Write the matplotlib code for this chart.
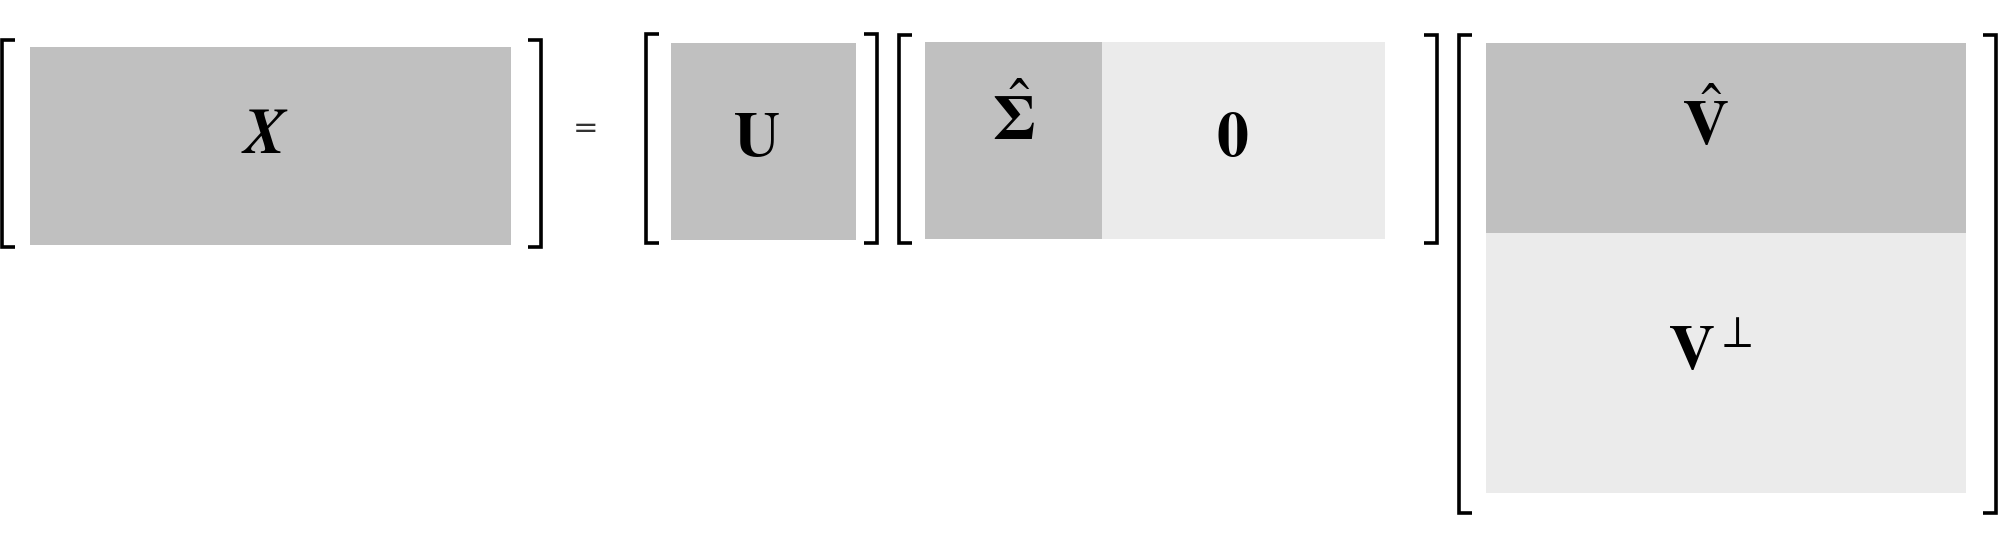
import matplotlib
matplotlib.use("Agg")
import matplotlib.pyplot as plt
from matplotlib.patches import Rectangle

plt.rcParams['mathtext.fontset'] = 'stix'

# block rectangles: (x0, y0, x1, y1, colour)
dark = '#c0c0c0'
light = '#ebebeb'
block_x = [30, 671, 925, 1102, 1486, 1486]
block_y = [47, 43, 42, 42, 43, 233]
block_w = [481, 185, 177, 283, 480, 480]
block_h = [198, 197, 197, 197, 190, 260]
block_c = [dark, dark, dark, light, dark, light]

# labels
label_text = [r'$\boldsymbol{X}$', r'$\mathbf{U}$', r'$\hat{\mathbf{\Sigma}}$', r'$\mathbf{0}$',
              r'$\hat{\mathbf{V}}$', r'$\mathbf{V}^{\perp}$']
label_x = [265, 756, 1013, 1232, 1705, 1710]
label_y = [135, 138, 120, 138, 125, 352]

# brackets: (x, top, bottom, side) side=+1 left bracket, -1 right bracket
br_x = [2, 541, 646, 877, 899, 1437, 1459, 1996]
br_top = [40, 40, 34, 34, 35, 35, 35, 35]
br_bot = [247, 247, 243, 243, 243, 243, 513, 513]
br_side = [1, -1, 1, -1, 1, -1, 1, -1]

fig = plt.figure(figsize=(20, 5.48), dpi=100)
ax = fig.add_axes([0, 0, 1, 1])
ax.set_xlim(0, 2000)
ax.set_ylim(548, 0)
ax.axis('off')

for x, y, w, h, c in zip(block_x, block_y, block_w, block_h, block_c):
    ax.add_patch(Rectangle((x, y), w, h, facecolor=c, edgecolor='none'))

for x, t, b, s in zip(br_x, br_top, br_bot, br_side):
    ax.plot([x + s * 13, x, x, x + s * 13], [t, t, b, b], color='black', lw=2.6,
            solid_joinstyle='miter', solid_capstyle='butt')

for txt, x, y in zip(label_text, label_x, label_y):
    ax.text(x, y, txt, fontsize=46, ha='center', va='center')

ax.text(586, 128, '=', fontsize=22, ha='center', va='center', color='#333333')

fig.savefig('out.png', dpi=100)
